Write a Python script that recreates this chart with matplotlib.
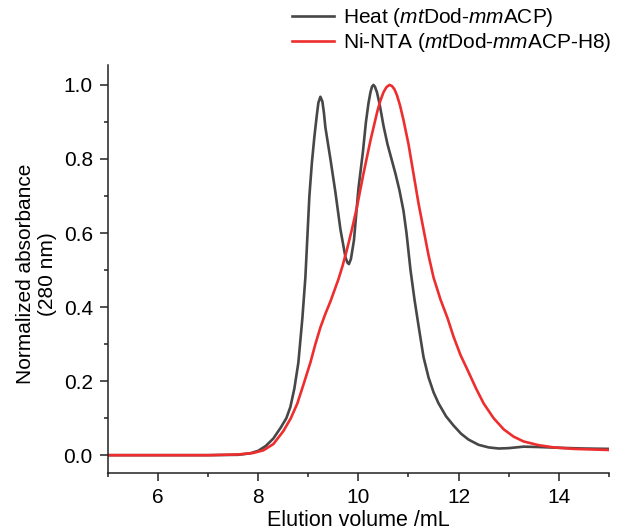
import matplotlib
matplotlib.use("Agg")
import matplotlib.pyplot as plt
from matplotlib.ticker import MultipleLocator

plt.rcParams['font.family'] = ['Liberation Sans', 'DejaVu Sans']
plt.rcParams['mathtext.fontset'] = 'custom'
plt.rcParams['mathtext.rm'] = 'Liberation Sans'
plt.rcParams['mathtext.it'] = 'Liberation Sans:italic'

heat_x = [5.0, 7.0, 7.6, 7.84, 8.0, 8.15, 8.3, 8.45, 8.56, 8.64, 8.72, 8.8, 8.88, 8.94,
          9.02, 9.07, 9.12, 9.17, 9.2, 9.24, 9.28, 9.31, 9.34, 9.44, 9.54, 9.64, 9.74, 9.78, 9.81,
          9.85, 9.91, 10.0, 10.09, 10.15, 10.2, 10.24, 10.27, 10.3, 10.33, 10.37, 10.42, 10.5, 10.58,
          10.66, 10.74, 10.82, 10.9, 10.96, 11.04, 11.12, 11.2, 11.3, 11.4, 11.5, 11.6,
          11.75, 11.9, 12.05, 12.2, 12.4, 12.6, 12.8, 13.0, 13.3, 13.6, 14.0, 14.5, 15.0]
heat_y = [0.0, 0.0, 0.001, 0.005, 0.012, 0.025, 0.045, 0.075, 0.10, 0.13, 0.18, 0.25, 0.37, 0.48,
          0.70, 0.79, 0.86, 0.92, 0.952, 0.968, 0.955, 0.925, 0.885, 0.80, 0.71, 0.61, 0.535, 0.52, 0.516,
          0.53, 0.58, 0.72, 0.82, 0.90, 0.95, 0.98, 0.995, 1.0, 0.995, 0.98, 0.95, 0.89, 0.84,
          0.80, 0.76, 0.715, 0.66, 0.60, 0.50, 0.42, 0.35, 0.265, 0.21, 0.17, 0.14,
          0.105, 0.08, 0.058, 0.042, 0.028, 0.021, 0.018, 0.019, 0.023, 0.022, 0.020, 0.018, 0.017]

nta_x = [5.0, 7.0, 7.6, 7.9, 8.1, 8.3, 8.5, 8.65, 8.78, 8.9, 9.04, 9.14, 9.24, 9.34, 9.44,
         9.6, 9.68, 9.77, 9.87, 9.97, 10.1, 10.24, 10.38, 10.44, 10.5, 10.56, 10.62, 10.67,
         10.72, 10.77, 10.83, 10.9, 11.0, 11.1, 11.2, 11.3, 11.4, 11.5, 11.64, 11.78, 11.9,
         12.04, 12.18, 12.35, 12.5, 12.7, 12.9, 13.1, 13.3, 13.6, 13.9, 14.3, 15.0]
nta_y = [0.0, 0.0, 0.002, 0.006, 0.013, 0.03, 0.065, 0.10, 0.14, 0.19, 0.25, 0.30, 0.345, 0.382, 0.415,
         0.475, 0.51, 0.555, 0.61, 0.67, 0.76, 0.85, 0.93, 0.958, 0.98, 0.994, 1.0, 0.997,
         0.988, 0.972, 0.945, 0.905, 0.84, 0.76, 0.68, 0.61, 0.54, 0.48, 0.42, 0.37, 0.32,
         0.27, 0.23, 0.18, 0.14, 0.10, 0.07, 0.05, 0.037, 0.027, 0.021, 0.017, 0.014]

labels = [r'Heat ($\mathit{mt}$Dod-$\mathit{mm}$ACP)',
          r'Ni-NTA ($\mathit{mt}$Dod-$\mathit{mm}$ACP-H8)']

fig = plt.figure(figsize=(6.18, 5.32), dpi=100)
ax = fig.add_axes([0.175, 0.111, 0.81, 0.767])

l1, = ax.plot(heat_x, heat_y, color='#474747', lw=1.9, label=labels[0])
l2, = ax.plot(nta_x, nta_y, color='#ee2e2e', lw=1.9, label=labels[1])

ax.set_xlim(5, 15)
ax.set_ylim(-0.048, 1.054)
ax.xaxis.set_major_locator(MultipleLocator(2))
ax.xaxis.set_minor_locator(MultipleLocator(1))
ax.yaxis.set_minor_locator(MultipleLocator(0.1))
ax.set_yticks([0.0, 0.2, 0.4, 0.6, 0.8, 1.0])
ax.set_yticklabels(['0.0', '0.2', '0.4', '0.6', '0.8', '1.0'])

for s in ['top', 'right']:
    ax.spines[s].set_visible(False)
for s in ['left', 'bottom']:
    ax.spines[s].set_linewidth(1.1)
    ax.spines[s].set_color('#222222')
ax.tick_params(which='major', direction='out', length=5.5, width=1.1, labelsize=15,
               colors='#222222', labelcolor='black', pad=5.5)
ax.tick_params(which='minor', direction='out', length=2.8, width=1.1, colors='#222222')

ax.set_xlabel('Elution volume /mL', fontsize=15.5, labelpad=2)
ax.set_ylabel('Normalized absorbance\n(280 nm)', fontsize=15, linespacing=1.2)
ax.yaxis.set_label_coords(-0.102, 0.488)

fig.legend(handles=[l1, l2], loc='upper left', bbox_to_anchor=(0.466, 0.996),
           frameon=False, fontsize=15, handlelength=2.0, handletextpad=0.45,
           labelspacing=0.1, borderaxespad=0.0, borderpad=0.2)

fig.savefig('out.png', dpi=100)
